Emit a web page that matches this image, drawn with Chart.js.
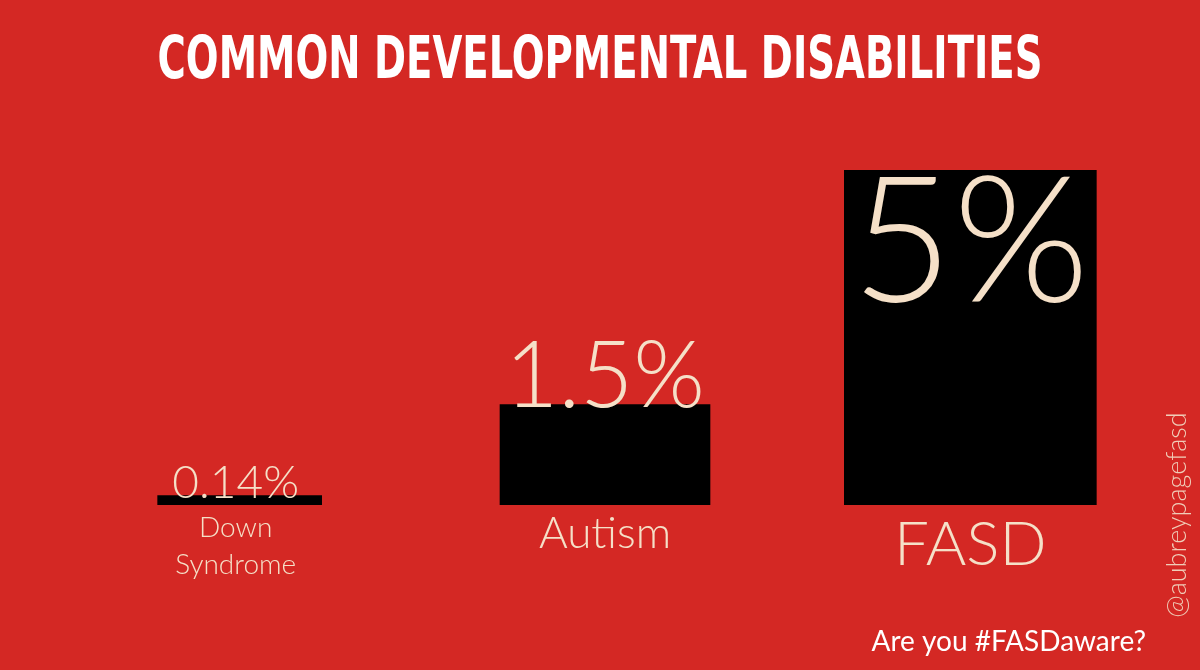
<!DOCTYPE html>
<html><head><meta charset="utf-8">
<script src="https://cdn.jsdelivr.net/npm/chart.js@4"></script>
<style>html,body{margin:0;background:#d42824}#w{width:1200px;height:670px}</style>
</head><body><div id="w"><canvas id="c"></canvas></div>
<script>
const categories = [['Down', 'Syndrome'], ['Autism'], ['FASD']];
const values = [0.14, 1.5, 5];
const valueLabels = ['0.14%', '1.5%', '5%'];
const barWidths = [164, 210, 252];
const cream = '#f5e0c8';

// one dataset per bar so each gets its own width
const datasets = values.map((v, i) => ({
  data: values.map((_, j) => j === i ? v : null),
  backgroundColor: '#000',
  barThickness: barWidths[i],
  skipNull: true
}));

const decor = {
  id: 'decor',
  afterDraw(chart) {
    const c = chart.ctx, xs = chart.scales.x, ys = chart.scales.y;
    c.save();
    c.textAlign = 'center';
    c.fillStyle = '#fff';
    c.font = 'bold 58px "DejaVu Sans Condensed", Roboto';
    c.textBaseline = 'alphabetic';
    c.fillText('COMMON DEVELOPMENTAL DISABILITIES', 600, 78, 885);

    c.fillStyle = cream;
    const sizes = [46, 92, 175];
    const lsizes = [28, 44, 62];
    values.forEach((v, i) => {
      const x = xs.getPixelForValue(i) - (i === 0 ? 4 : 0);
      const top = ys.getPixelForValue(v);
      c.font = '300 ' + sizes[i] + 'px Lato, "Open Sans"';
      const base = i === 2 ? top + 132 : top + 2;
      c.fillText(valueLabels[i], x, base);
      c.font = '300 ' + lsizes[i] + 'px Lato, "Open Sans"';
      const lines = categories[i];
      lines.forEach((t, k) => {
        const y = i === 0 ? 537 + k * 37 : (i === 1 ? 548 : 565);
        c.fillText(t, x, y);
      });
    });

    c.fillStyle = '#fff';
    c.font = '28px Lato, "Open Sans"';
    c.textAlign = 'right';
    c.fillText('Are you #FASDaware?', 1146, 651);

    c.translate(1178, 515);
    c.rotate(-Math.PI / 2);
    c.textAlign = 'center';
    c.fillStyle = '#f0cdb8';
    c.font = '300 27px Lato, "Open Sans"';
    c.fillText('@aubreypagefasd', 0, 8);
    c.restore();
  }
};

new Chart(document.getElementById('c'), {
  type: 'bar',
  data: { labels: categories, datasets },
  options: {
    responsive: true,
    maintainAspectRatio: false,
    animation: false,
    layout: { padding: { left: 57, right: 47, top: 170, bottom: 165 } },
    scales: {
      x: { display: false },
      y: { display: false, min: 0, max: 5 }
    },
    plugins: { legend: { display: false }, tooltip: { enabled: false } }
  },
  plugins: [decor]
});
</script></body></html>
